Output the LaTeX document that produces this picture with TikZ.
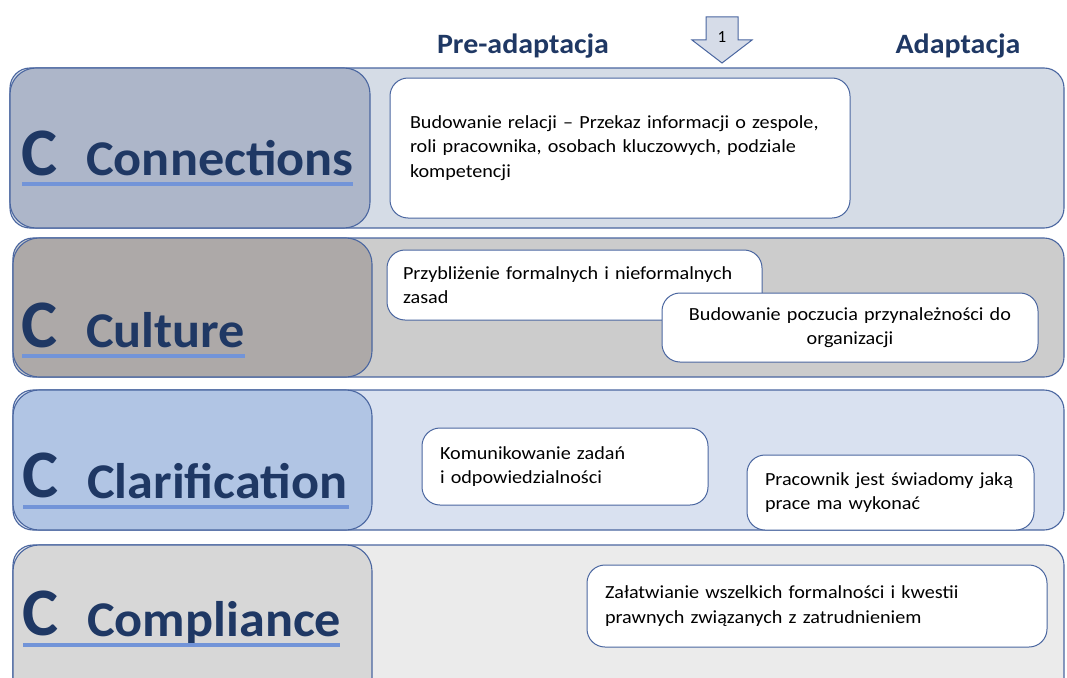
\documentclass[tikz,border=0pt]{standalone}
\usepackage{fontspec}
\setmainfont{Carlito}
\newfontfamily\widefont[FakeStretch=1.09]{Carlito}
\newfontfamily\titlefont[FakeStretch=1.045]{Carlito}
\newfontfamily\phasefont[FakeStretch=1.07]{Carlito}
\definecolor{navy}{HTML}{1F3864}
\definecolor{edge}{HTML}{4A66A0}
\definecolor{uline}{HTML}{7294D8}
\definecolor{bandA}{HTML}{D5DCE6}
\definecolor{headA}{HTML}{ADB6C9}
\definecolor{bandB}{HTML}{CCCCCC}
\definecolor{headB}{HTML}{ADA9A8}
\definecolor{bandC}{HTML}{D9E1F0}
\definecolor{headC}{HTML}{B1C5E4}
\definecolor{bandD}{HTML}{EBEBEB}
\definecolor{headD}{HTML}{D7D7D7}
\definecolor{arrowfill}{HTML}{D6DCE8}
\tikzset{
  band/.style={draw=edge, line width=1.1pt, rounded corners=20pt},
  head/.style={draw=edge, line width=1.1pt, rounded corners=26pt},
  bigc/.style={text=navy, font=\fontsize{68}{68}\bfseries\selectfont, inner sep=0pt, anchor=base west},
  ttl/.style={text=navy, font=\titlefont\fontsize{50}{50}\bfseries\selectfont, inner sep=0pt, anchor=base west},
  ul/.style={draw=uline, line width=4pt},
  phase/.style={text=navy, font=\phasefont\fontsize{28}{28}\bfseries\selectfont, inner sep=0pt, anchor=base},
  card/.style={draw=edge, line width=1pt, fill=white, rounded corners=18pt,
    font=\widefont\fontsize{18.5}{24.5}\selectfont, inner xsep=0pt, inner ysep=0pt}
}
\begin{document}
\begin{tikzpicture}[x=1pt, y=-1pt]
\useasboundingbox (0,0) rectangle (1067,677);
\clip (0,0) rectangle (1067,677);
\fill[white] (0,0) rectangle (1067,677);

% phase headers and step marker
\node[phase] (pre) at (523,54) {Pre-adaptacja};
\node[phase] (adp) at (958,54) {Adaptacja};
\draw[draw=edge, line width=1pt, fill=arrowfill, line join=miter]
  (706,17) -- (738,17) -- (738,40) -- (752,40) -- (722,63) -- (692,40) -- (706,40) -- cycle;
\node[font=\fontsize{17}{17}\selectfont, anchor=base] (step1) at (722,42) {1};

% row 1: Connections
\draw[band, fill=bandA] (10,68) rectangle (1064,228);
\draw[head, fill=headA] (10,68) rectangle (370,228);
\node[bigc] (c1) at (21,175) {C};
\node[ttl] (t1) at (86,175) {Connections};
\draw[ul] (22,184) -- (353,184);
\node[card, minimum width=460pt, minimum height=140pt, text width=420pt, align=left] (b1) at (620,148)
  {Budowanie relacji – Przekaz informacji o zespole,\\roli pracownika, osobach kluczowych, podziale\\kompetencji};

% row 2: Culture
\draw[band, fill=bandB] (13,238) rectangle (1064,377);
\draw[head, fill=headB] (13,238) rectangle (372,377);
\node[bigc] (c2) at (21,347) {C};
\node[ttl] (t2) at (86,347) {Culture};
\draw[ul] (22,356) -- (245,356);
\node[card, minimum width=375pt, minimum height=70pt, text width=343pt, align=left] (b2) at (574.5,285)
  {Przybliżenie formalnych i nieformalnych\\zasad};
\node[card, minimum width=376pt, minimum height=69pt, text width=340pt, align=center] (b3) at (850,327.5)
  {Budowanie poczucia przynależności do\\organizacji};

% row 3: Clarification
\draw[band, fill=bandC] (13,390) rectangle (1064,530);
\draw[head, fill=headC] (13,390) rectangle (372,530);
\node[bigc] (c3) at (22,497) {C};
\node[ttl] (t3) at (87,498) {Clarification};
\draw[ul] (23,507) -- (349,507);
\node[card, minimum width=286pt, minimum height=77pt, text width=250pt, align=left] (b4) at (565,466.5)
  {Komunikowanie zadań\\i odpowiedzialności};
\node[card, minimum width=287pt, minimum height=75pt, text width=251pt, align=left] (b5) at (890.5,492.5)
  {Pracownik jest świadomy jaką\\prace ma wykonać};

% row 4: Compliance
\draw[band, fill=bandD] (13,545) rectangle (1064,720);
\draw[head, fill=headD] (13,545) rectangle (372,720);
\node[bigc] (c4) at (22,635) {C};
\node[ttl] (t4) at (87,636) {Compliance};
\draw[ul] (23,645) -- (340,645);
\node[card, minimum width=460pt, minimum height=82pt, text width=424pt, align=left] (b6) at (817,606)
  {Załatwianie wszelkich formalności i kwestii\\prawnych związanych z zatrudnieniem};
\end{tikzpicture}
\end{document}
